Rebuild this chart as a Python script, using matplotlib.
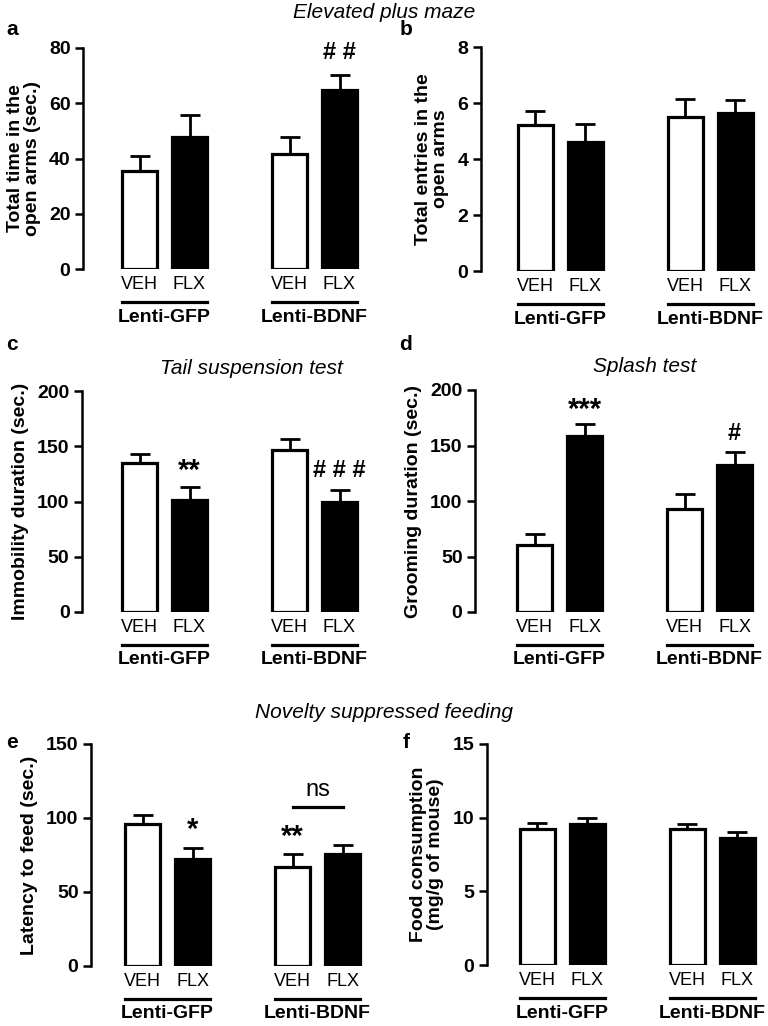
import matplotlib
matplotlib.use('Agg')
import matplotlib.pyplot as plt

plt.rcParams['font.family'] = ['Liberation Sans', 'DejaVu Sans']

groups = ['Lenti-GFP', 'Lenti-BDNF']
ticklabs = ['VEH', 'FLX', 'VEH', 'FLX']
xpos = [0, 1, 3, 4]
fills = ['white', 'black', 'white', 'black']

# a - elevated plus maze, time in open arms
epm_time = [35.5, 47.8, 41.6, 64.8]
epm_time_err = [5.5, 8.0, 6.2, 5.6]
# b - entries in open arms
epm_entries = [5.2, 4.6, 5.5, 5.65]
epm_entries_err = [0.5, 0.65, 0.65, 0.45]
# c - tail suspension
tst = [135, 101, 147, 100]
tst_err = [8, 12, 10, 10]
# d - splash test
splash = [60, 159, 93, 132]
splash_err = [10, 10, 13, 12]
# e - NSF latency
nsf_lat = [96, 72, 67, 76]
nsf_lat_err = [6, 8, 9, 6]
# f - food consumption
food = [9.2, 9.6, 9.2, 8.6]
food_err = [0.45, 0.4, 0.4, 0.4]

W, H = 768, 1026
fig = plt.figure(figsize=(W / 100, H / 100), dpi=100)

PX = 50.0  # pixels per bar unit


def panel(left, c0, bottom, height, vals, errs, ymax, step, ylabel):
    xl = -(c0 - left) / PX
    xr = 4.45
    ax = fig.add_axes([left / W, (H - bottom) / H, (xr - xl) * PX / W, height / H])
    ax.bar(xpos, vals, width=0.7, color=fills, edgecolor='black', linewidth=2.3, zorder=3)
    ax.errorbar(xpos, vals, yerr=[[0] * 4, errs], fmt='none', ecolor='black',
                elinewidth=2.0, capsize=7, capthick=2.0, zorder=2)
    ax.set_xlim(xl, xr)
    ax.set_ylim(0, ymax)
    ax.set_yticks(range(0, int(ymax) + 1, step))
    for s in ['top', 'right', 'bottom']:
        ax.spines[s].set_visible(False)
    ax.spines['left'].set_linewidth(1.8)
    ax.tick_params(axis='y', width=1.8, length=6, labelsize=14, pad=3)
    for t in ax.get_yticklabels():
        t.set_fontweight('bold')
    ax.set_xticks(xpos)
    ax.set_xticklabels(ticklabs, fontsize=13)
    ax.tick_params(axis='x', length=0, pad=5)
    ax.set_ylabel(ylabel, fontsize=14, fontweight='bold', labelpad=6,
                  linespacing=1.0)
    tr = ax.get_xaxis_transform()
    for i, g in enumerate(groups):
        x0 = xpos[2 * i] - 0.35
        x1 = xpos[2 * i + 1] + 0.35
        ax.plot([x0, x1], [-33 / height] * 2, color='black', lw=2.3,
                transform=tr, clip_on=False)
        ax.text((x0 + x1) / 2, -48 / height, g, transform=tr, ha='center',
                va='center', fontsize=14, fontweight='bold')
    return ax


ax_a = panel(83, 139.5, 269, 221, epm_time, epm_time_err, 80, 20,
             'Total time in the\nopen arms (sec.)')
ax_a.text(4, 78.5, '# #', ha='center', va='center', fontsize=17, fontweight='bold')

ax_b = panel(481, 535, 271, 224, epm_entries, epm_entries_err, 8, 2,
             'Total entries in the\nopen arms')

ax_c = panel(82, 139.5, 612, 221, tst, tst_err, 200, 50,
             'Immobility duration (sec.)')
ax_c.text(1, 128, '**', ha='center', va='center', fontsize=21, fontweight='bold')
ax_c.text(4, 128.5, '# # #', ha='center', va='center', fontsize=17, fontweight='bold')

ax_d = panel(475, 534.5, 612, 222, splash, splash_err, 200, 50,
             'Grooming duration (sec.)')
ax_d.text(1, 182, '***', ha='center', va='center', fontsize=21, fontweight='bold')
ax_d.text(4, 161, '#', ha='center', va='center', fontsize=17, fontweight='bold')

ax_e = panel(91, 142.5, 966, 222, nsf_lat, nsf_lat_err, 150, 50,
             'Latency to feed (sec.)')
ax_e.text(1, 92, '*', ha='center', va='center', fontsize=21, fontweight='bold')
ax_e.text(3, 87, '**', ha='center', va='center', fontsize=21, fontweight='bold')
ax_e.plot([3, 4], [107.5, 107.5], color='black', lw=2.3, clip_on=False)
ax_e.text(3.5, 119, 'ns', ha='center', va='center', fontsize=17)

ax_f = panel(487, 537, 965, 221, food, food_err, 15, 5,
             'Food consumption\n(mg/g of mouse)')

# section titles
fig.text(384 / W, 1 - 12 / H, 'Elevated plus maze', ha='center', va='center',
         fontsize=15, style='italic')
fig.text(251 / W, 1 - 368 / H, 'Tail suspension test', ha='center', va='center',
         fontsize=15, style='italic')
fig.text(645 / W, 1 - 367 / H, 'Splash test', ha='center', va='center',
         fontsize=15, style='italic')
fig.text(384 / W, 1 - 712 / H, 'Novelty suppressed feeding', ha='center', va='center',
         fontsize=15, style='italic')

# panel letters
for lab, x, y in [('a', 12, 30), ('b', 406, 30), ('c', 12, 344), ('d', 405, 344),
                  ('e', 12, 742), ('f', 406, 743)]:
    fig.text(x / W, 1 - y / H, lab, ha='center', va='center', fontsize=15,
             fontweight='bold')

fig.savefig('out.png', dpi=100)
